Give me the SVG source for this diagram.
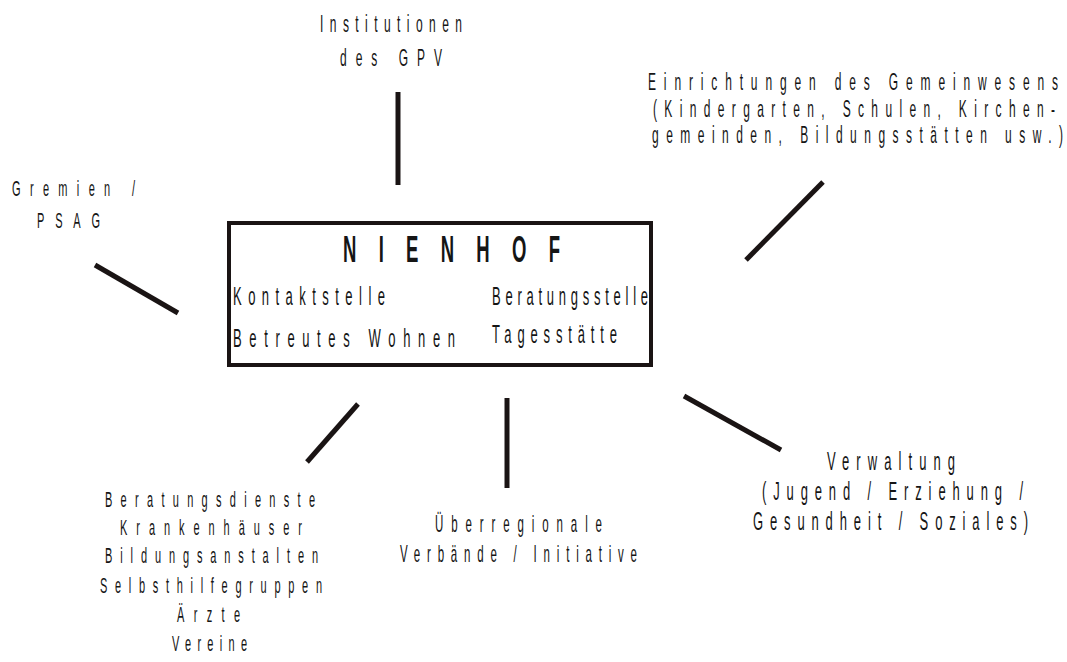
<svg xmlns="http://www.w3.org/2000/svg" width="1067" height="662" viewBox="0 0 1067 662">
<style>
.t{font-family:"Liberation Sans",Arial,sans-serif;fill:#151515;}
.b{font-weight:bold;}
.c{stroke:#1a1414;stroke-width:5;fill:none;}
</style>
<rect width="1067" height="662" fill="#ffffff"/>
<g id="connectors">
<line class="c" x1="398" y1="92" x2="398" y2="185"/>
<line class="c" x1="95" y1="265" x2="178" y2="313"/>
<line class="c" x1="823" y1="182" x2="746" y2="260"/>
<line class="c" x1="358" y1="404" x2="307" y2="462"/>
<line class="c" x1="507" y1="398" x2="507" y2="488"/>
<line class="c" x1="684" y1="396" x2="781" y2="450"/>
</g>
<g id="nienhof">
<rect x="229" y="223" width="422" height="142" fill="none" stroke="#1a1414" stroke-width="4"/>
<g transform="scale(0.5,1)">
<text class="t b" x="686" y="262" font-size="37" textLength="434" lengthAdjust="spacing">NIENHOF</text>
<text class="t" x="466" y="305" font-size="26" textLength="304" lengthAdjust="spacing">Kontaktstelle</text>
<text class="t" x="984" y="305" font-size="26" textLength="312" lengthAdjust="spacing">Beratungsstelle</text>
<text class="t" x="466" y="347" font-size="26" textLength="444" lengthAdjust="spacing">Betreutes Wohnen</text>
<text class="t" x="984" y="343" font-size="26" textLength="250" lengthAdjust="spacing">Tagesstätte</text>
</g>
</g>
<g id="institutionen" transform="scale(0.5,1)">
<text class="t" x="640" y="32" font-size="24" textLength="284" lengthAdjust="spacing">Institutionen</text>
<text class="t" x="680" y="66" font-size="24" textLength="204" lengthAdjust="spacing">des GPV</text>
</g>
<g id="gremien" transform="scale(0.5,1)">
<text class="t" x="24" y="196" font-size="22" textLength="246" lengthAdjust="spacing">Gremien /</text>
<text class="t" x="74" y="228" font-size="22" textLength="126" lengthAdjust="spacing">PSAG</text>
</g>
<g id="einrichtungen" transform="scale(0.5,1)">
<text class="t" x="1296" y="90" font-size="24" textLength="820" lengthAdjust="spacing">Einrichtungen des Gemeinwesens</text>
<text class="t" x="1306" y="117" font-size="24" textLength="804" lengthAdjust="spacing">(Kindergarten, Schulen, Kirchen-</text>
<text class="t" x="1304" y="143" font-size="24" textLength="822" lengthAdjust="spacing">gemeinden, Bildungsstätten usw.)</text>
</g>
<g id="beratungsdienste" transform="scale(0.5,1)">
<text class="t" x="210" y="507" font-size="22" textLength="420" lengthAdjust="spacing">Beratungsdienste</text>
<text class="t" x="240" y="535" font-size="22" textLength="364" lengthAdjust="spacing">Krankenhäuser</text>
<text class="t" x="210" y="563" font-size="22" textLength="426" lengthAdjust="spacing">Bildungsanstalten</text>
<text class="t" x="200" y="593" font-size="22" textLength="444" lengthAdjust="spacing">Selbsthilfegruppen</text>
<text class="t" x="354" y="622" font-size="22" textLength="126" lengthAdjust="spacing">Ärzte</text>
<text class="t" x="344" y="651" font-size="22" textLength="150" lengthAdjust="spacing">Vereine</text>
</g>
<g id="ueberregionale" transform="scale(0.5,1)">
<text class="t" x="870" y="532" font-size="23" textLength="334" lengthAdjust="spacing">Überregionale</text>
<text class="t" x="800" y="562" font-size="23" textLength="474" lengthAdjust="spacing">Verbände / Initiative</text>
</g>
<g id="verwaltung" transform="scale(0.5,1)">
<text class="t" x="1654" y="470" font-size="26" textLength="256" lengthAdjust="spacing">Verwaltung</text>
<text class="t" x="1524" y="500" font-size="26" textLength="522" lengthAdjust="spacing">(Jugend / Erziehung /</text>
<text class="t" x="1506" y="530" font-size="26" textLength="550" lengthAdjust="spacing">Gesundheit / Soziales)</text>
</g>
</svg>
